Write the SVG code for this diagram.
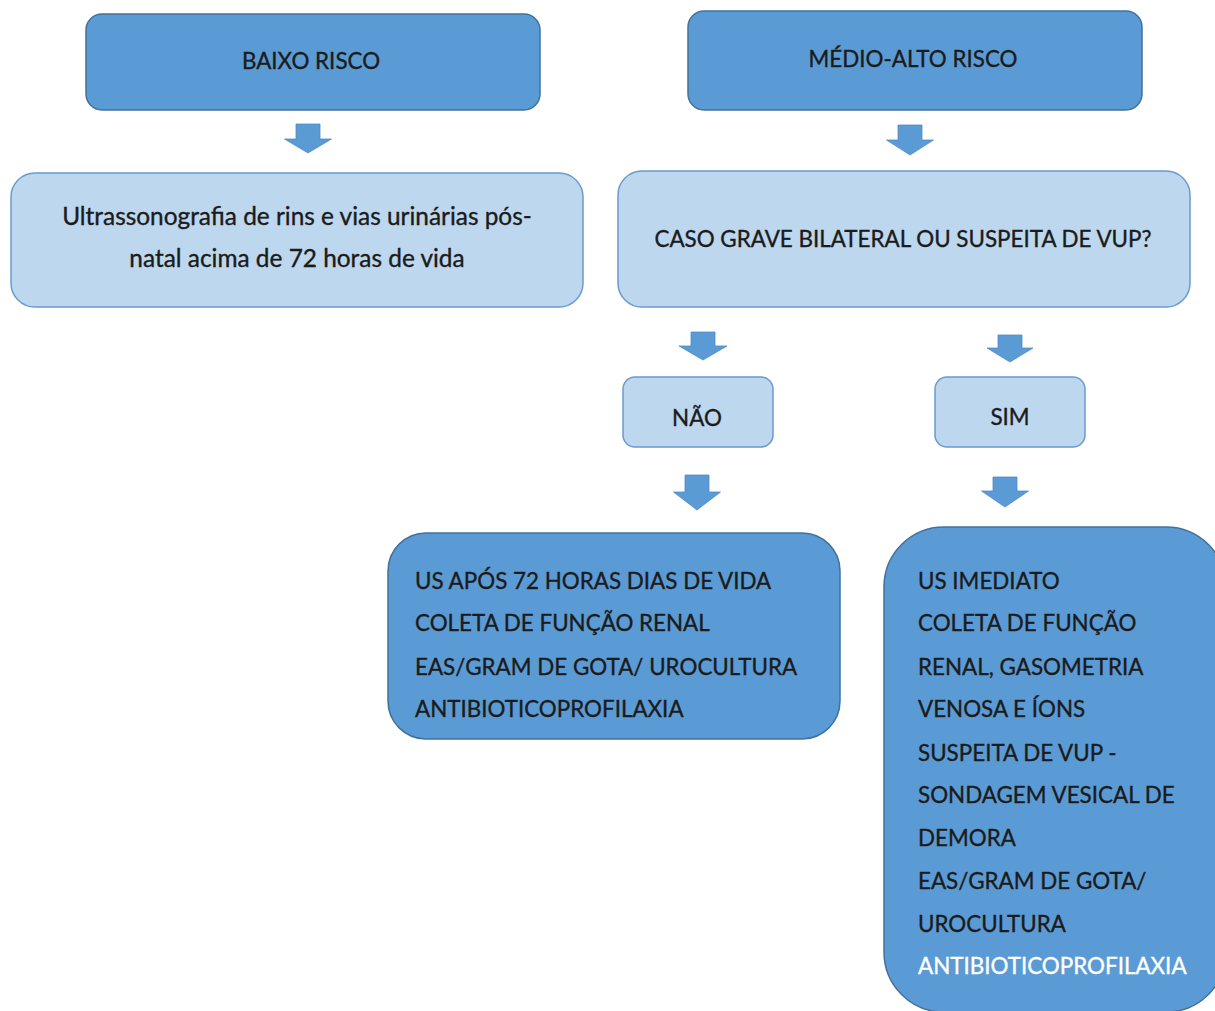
<svg xmlns="http://www.w3.org/2000/svg" width="1215" height="1011" viewBox="0 0 1215 1011">
<style>
.dark{fill:#5b9bd5;stroke:#41719c;stroke-width:1.5}
.light{fill:#bdd7ee;stroke:#6a9bcf;stroke-width:1.5}
.arr{fill:#5b9bd5;stroke:#4f8cc6;stroke-width:0.8}
text{font-family:"Lato","Liberation Sans",sans-serif;font-size:22.4px;fill:#1b1b1b;stroke:#1b1b1b;stroke-width:0.35}
.lo{font-size:24.4px}
.c{text-anchor:middle}
.w{fill:#ffffff;stroke:#ffffff}
</style>
<rect width="1215" height="1011" fill="#ffffff"/>
<g id="connectors">
<path class="arr" d="M296,124 H320 V139 H331.5 L308,153 L284.5,139 H296 Z"/>
<path class="arr" d="M898,125 H922 V140 H933.5 L910,155 L886.5,140 H898 Z"/>
<path class="arr" d="M691,332 H715 V346 H727 L703,360 L679,346 H691 Z"/>
<path class="arr" d="M998,335 H1022 V348 H1033 L1010,362 L987,348 H998 Z"/>
<path class="arr" d="M685,475 H709 V492 H720.5 L697,510 L673.5,492 H685 Z"/>
<path class="arr" d="M993,477 H1017 V491 H1028.5 L1005,507 L981.5,491 H993 Z"/>
</g>
<g id="baixo">
<rect class="dark" x="86" y="14" width="454" height="96" rx="16"/>
<text class="c" x="311" y="69">BAIXO RISCO</text>
</g>
<g id="medio">
<rect class="dark" x="688" y="11" width="454" height="99" rx="16"/>
<text class="c" x="913" y="67">MÉDIO-ALTO RISCO</text>
</g>
<g id="ultrassom">
<rect class="light" x="11" y="173" width="572" height="134" rx="24"/>
<text class="c lo" x="297" y="225">Ultrassonografia de rins e vias urinárias pós-</text>
<text class="c lo" x="297" y="267">natal acima de 72 horas de vida</text>
</g>
<g id="caso">
<rect class="light" x="618" y="171" width="572" height="136" rx="24"/>
<text class="c" x="903" y="247">CASO GRAVE BILATERAL OU SUSPEITA DE VUP?</text>
</g>
<g id="nao">
<rect class="light" x="623" y="377" width="150" height="70" rx="12"/>
<text class="c" x="697" y="426">NÃO</text>
</g>
<g id="sim">
<rect class="light" x="935" y="377" width="150" height="70" rx="12"/>
<text class="c" x="1010" y="425">SIM</text>
</g>
<g id="nao-acoes">
<rect class="dark" x="388" y="533" width="452" height="206" rx="38"/>
<text x="415" y="589">US APÓS 72 HORAS DIAS DE VIDA</text>
<text x="415" y="631">COLETA DE FUNÇÃO RENAL</text>
<text x="415" y="675">EAS/GRAM DE GOTA/ UROCULTURA</text>
<text x="415" y="717">ANTIBIOTICOPROFILAXIA</text>
</g>
<g id="sim-acoes">
<rect class="dark" x="884" y="527" width="342" height="485" rx="60"/>
<text x="918" y="589">US IMEDIATO</text>
<text x="918" y="631">COLETA DE FUNÇÃO</text>
<text x="918" y="675">RENAL, GASOMETRIA</text>
<text x="918" y="717">VENOSA E ÍONS</text>
<text x="918" y="761">SUSPEITA DE VUP -</text>
<text x="918" y="803">SONDAGEM VESICAL DE</text>
<text x="918" y="846">DEMORA</text>
<text x="918" y="889">EAS/GRAM DE GOTA/</text>
<text x="918" y="932">UROCULTURA</text>
<text class="w" x="918" y="974">ANTIBIOTICOPROFILAXIA</text>
</g>
</svg>
